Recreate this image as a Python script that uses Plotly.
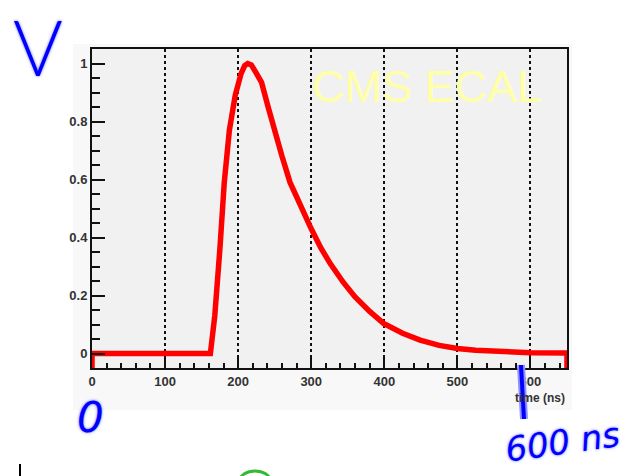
import plotly.graph_objects as go

# ---- data ----
time_ns = [0, 0, 162, 165, 168, 175, 181, 188, 196, 204, 209, 213, 218, 224, 232,
           241, 250, 260, 271, 285, 300, 313, 326, 344, 360, 380, 399, 425, 449,
           475, 500, 525, 550, 575, 600, 650, 650]
amplitude = [-0.05, 0, 0, 0.06, 0.13, 0.36, 0.59, 0.77, 0.89, 0.965, 0.993, 1.0,
             0.995, 0.97, 0.935, 0.85, 0.765, 0.68, 0.59, 0.51, 0.43, 0.365, 0.31,
             0.245, 0.195, 0.145, 0.104, 0.07, 0.046, 0.028, 0.017, 0.011, 0.007,
             0.004, 0.003, 0.002, -0.05]
x_ticks = [0, 100, 200, 300, 400, 500, 600]
x_tick_labels = ["0", "100", "200", "300", "400", "500", "600"]
y_ticks = [0, 0.2, 0.4, 0.6, 0.8, 1.0]
y_tick_labels = ["0", "0.2", "0.4", "0.6", "0.8", "1"]

W, H = 629, 476
L, R, T, B = 92, 62, 49, 108
PW, PH = W - L - R, H - T - B


def px(x):
    return (x - L) / PW


def py(y):
    return (H - B - y) / PH


fig = go.Figure()
fig.add_trace(go.Scatter(
    x=time_ns, y=amplitude, mode="lines",
    line=dict(color="#ff0000", width=5.5),
    hoverinfo="skip", showlegend=False, cliponaxis=False,
))

tickfont = dict(family="Liberation Sans, Arial", size=13, color="#333333", weight="bold")

fig.update_xaxes(
    range=[0, 650], tickvals=x_ticks, ticktext=x_tick_labels,
    ticks="inside", ticklen=11, tickwidth=2, tickcolor="#111",
    minor=dict(dtick=20, tick0=0, ticks="inside", ticklen=5, tickwidth=1.5, tickcolor="#111",
               showgrid=False),
    showgrid=True, gridcolor="#111", griddash="dot", gridwidth=1.6,
    showline=True, linecolor="#111", linewidth=2, mirror=True,
    zeroline=False, tickfont=tickfont, fixedrange=True,
)
fig.update_yaxes(
    range=[-0.05, 1.05], tickvals=y_ticks, ticktext=y_tick_labels,
    ticks="inside", ticklen=13, tickwidth=2, tickcolor="#111",
    minor=dict(dtick=0.05, tick0=0, ticks="inside", ticklen=8, tickwidth=1.5, tickcolor="#111",
               showgrid=False),
    showgrid=False,
    showline=True, linecolor="#111", linewidth=2, mirror=True,
    zeroline=False, tickfont=tickfont, fixedrange=True,
)

shapes = [
    # faint canvas background
    dict(type="rect", xref="paper", yref="paper", x0=px(73), x1=px(572), y0=py(410), y1=py(44),
         fillcolor="#f8f8f8", line=dict(width=0), layer="below"),
    # frame fill
    dict(type="rect", xref="paper", yref="paper", x0=0, x1=1, y0=0, y1=1,
         fillcolor="#f1f1f1", line=dict(width=0), layer="below"),
    # blue hand-drawn marker line (halo + stroke)
    dict(type="line", xref="paper", yref="paper", x0=px(521), y0=py(365), x1=px(524), y1=py(419),
         line=dict(color="#9090ff", width=8)),
    dict(type="line", xref="paper", yref="paper", x0=px(521), y0=py(365), x1=px(524), y1=py(419),
         line=dict(color="#0000ff", width=4)),
    # cropped marks at bottom
    dict(type="line", xref="paper", yref="paper", x0=px(20), y0=py(464), x1=px(20), y1=py(476),
         line=dict(color="#000", width=2)),
    dict(type="circle", xref="paper", yref="paper", x0=px(240), y0=py(490), x1=px(270), y1=py(471),
         line=dict(color="#33bb33", width=3)),
]

hand = dict(color="#0000ff", shadow="0 0 3px #7070ff")
annotations = [
    dict(text="CMS ECAL", x=px(427), y=py(86), xref="paper", yref="paper",
         xanchor="center", yanchor="middle", showarrow=False,
         font=dict(family="Liberation Sans, Arial", size=45, color="#ffffa8")),
    dict(text="time (ns)", x=1, y=py(398), xref="paper", yref="paper",
         xanchor="right", yanchor="middle", showarrow=False,
         font=dict(family="Liberation Sans, Arial", size=12, color="#333333", weight="bold")),
    dict(text="V", x=px(38), y=py(47), xref="paper", yref="paper",
         xanchor="center", yanchor="middle", showarrow=False,
         font=dict(family="Lato", size=76, weight=300, **hand)),
    dict(text="0", x=px(90), y=py(417), xref="paper", yref="paper",
         xanchor="center", yanchor="middle", showarrow=False,
         font=dict(family="DejaVu Sans", size=42, style="italic", **hand)),
    dict(text="600 ns", x=px(562), y=py(442), xref="paper", yref="paper",
         xanchor="center", yanchor="middle", showarrow=False, textangle=-8,
         font=dict(family="DejaVu Sans", size=34, style="italic", **hand)),
]

fig.update_layout(
    width=W, height=H,
    margin=dict(l=L, r=R, t=T, b=B, pad=0),
    paper_bgcolor="white", plot_bgcolor="#f1f1f1",
    shapes=shapes, annotations=annotations,
    showlegend=False,
)

fig.write_html("out.html", config={"displayModeBar": False},
               post_script="document.body.style.margin='0';")
